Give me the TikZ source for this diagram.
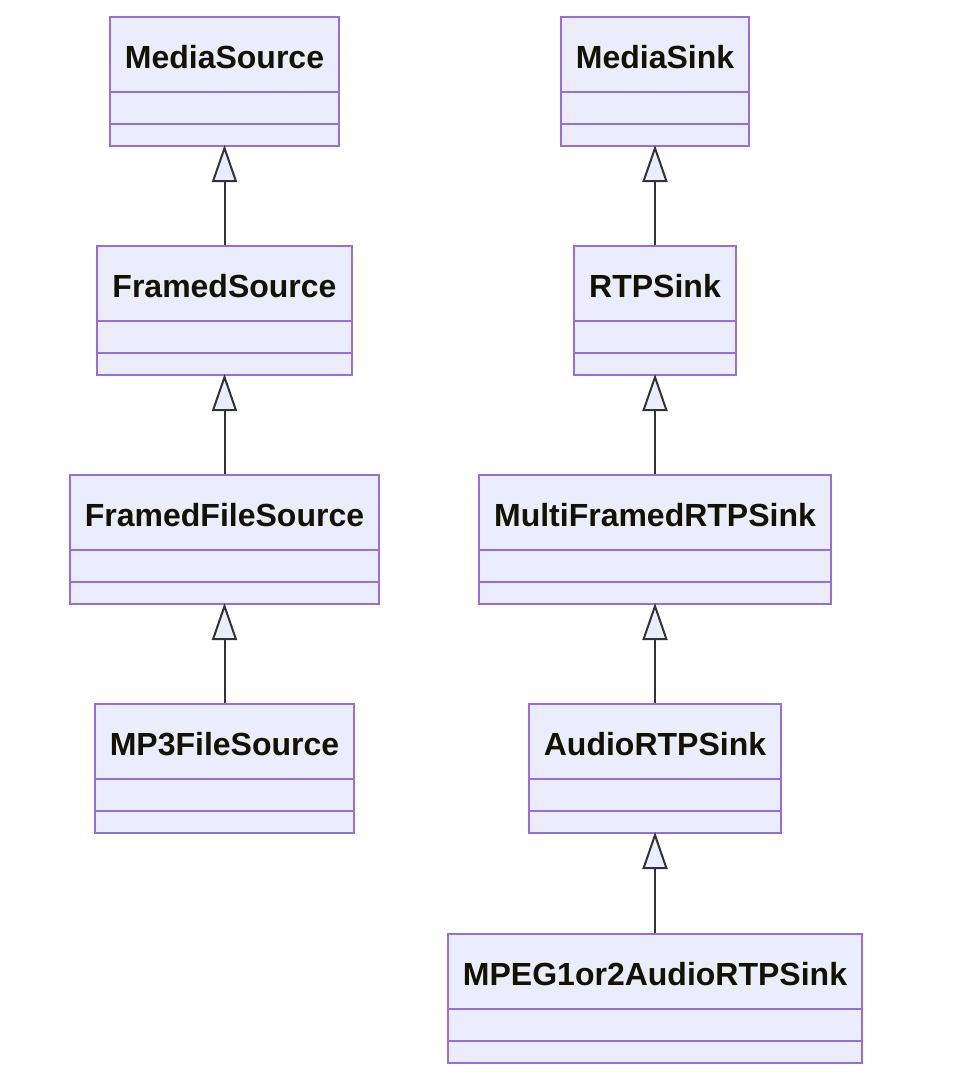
\documentclass[tikz,border=0pt]{standalone}
\usepackage{fontspec}
\setmainfont{Liberation Sans}
\usetikzlibrary{arrows.meta}
\definecolor{umlfill}{HTML}{ECECFF}
\definecolor{umlborder}{HTML}{9370DB}
\definecolor{umlline}{HTML}{333333}
\definecolor{umltext}{HTML}{131300}
\tikzset{
  classbox/.style={draw=umlborder, fill=umlfill, line width=2pt, rectangle, inner sep=0pt, minimum height=129pt},
  divider/.style={draw=umlborder, line width=2pt},
  classtitle/.style={anchor=base, inner sep=0pt, text=umltext, font=\fontsize{32pt}{38pt}\selectfont\bfseries},
  inherit/.style={draw=umlline, line width=2pt, -{Triangle[length=37pt,width=25pt,fill=umlfill,line join=miter]}}
}
\newcommand\umlbox[5]{%
  \node[classbox, minimum width=#4pt] (#1) at (#2,#3+64.5) {};
  \draw[divider] ([yshift=-76pt]#1.north west) -- ([yshift=-76pt]#1.north east);
  \draw[divider] ([yshift=-108pt]#1.north west) -- ([yshift=-108pt]#1.north east);
  \node[classtitle] (#1-t) at (#2,#3+51) {#5};
}
\begin{document}
\begin{tikzpicture}[x=1pt,y=-1pt]
\useasboundingbox (0,0) rectangle (976,1088);
\umlbox{ms}{224.5}{17}{229}{MediaSource}
\umlbox{fs}{224.5}{246}{255}{FramedSource}
\umlbox{ffs}{224.5}{475}{309}{FramedFileSource}
\umlbox{mp3}{224.5}{704}{259}{MP3FileSource}
\umlbox{msk}{655}{17}{188}{MediaSink}
\umlbox{rtp}{655}{246}{162}{RTPSink}
\umlbox{mfr}{655}{475}{352}{MultiFramedRTPSink}
\umlbox{aud}{655}{704}{252}{AudioRTPSink}
\umlbox{mpeg}{655}{934}{414}{MPEG1or2AudioRTPSink}
\draw[inherit] (fs.north) -- ([yshift=2pt]ms.south);
\draw[inherit] (ffs.north) -- ([yshift=2pt]fs.south);
\draw[inherit] (mp3.north) -- ([yshift=2pt]ffs.south);
\draw[inherit] (rtp.north) -- ([yshift=2pt]msk.south);
\draw[inherit] (mfr.north) -- ([yshift=2pt]rtp.south);
\draw[inherit] (aud.north) -- ([yshift=2pt]mfr.south);
\draw[inherit] (mpeg.north) -- ([yshift=2pt]aud.south);
\end{tikzpicture}
\end{document}
